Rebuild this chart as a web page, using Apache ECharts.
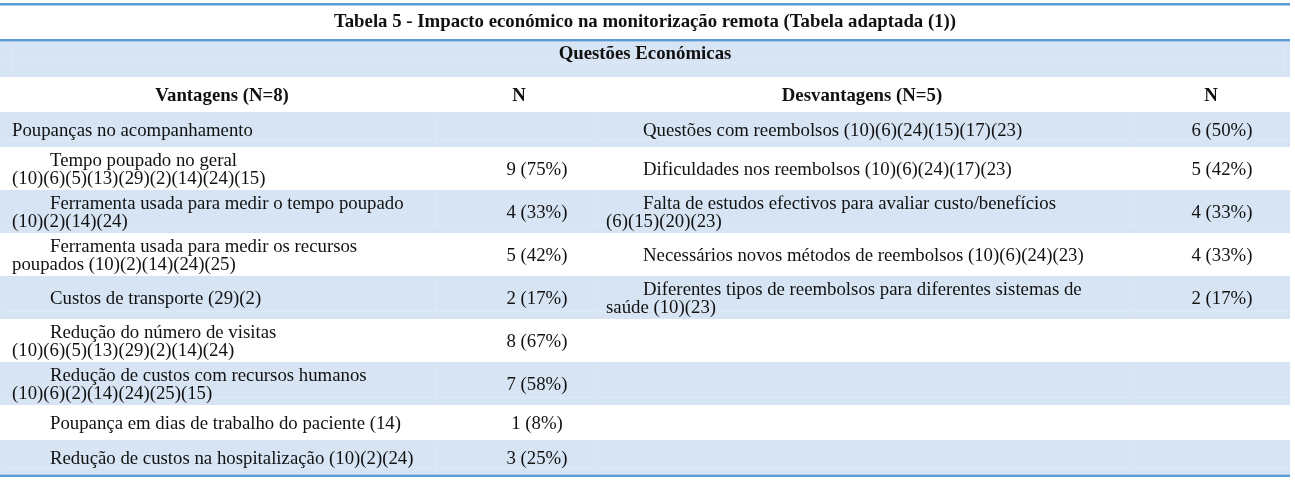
<!DOCTYPE html>
<html>
<head>
<meta charset="utf-8">
<script src="https://cdn.jsdelivr.net/npm/echarts@6/dist/echarts.min.js"></script>
<style>
  html, body { margin: 0; padding: 0; background: #ffffff; }
  #chart { width: 1295px; height: 485px; }
</style>
</head>
<body>
<div id="chart"></div>
<script>
// ---------- DATA ----------
const tableTitle = "Tabela 5 - Impacto económico na monitorização remota (Tabela adaptada (1))";
const sectionTitle = "Questões Económicas";
const headers = ["Vantagens (N=8)", "N", "Desvantagens (N=5)", "N"];

// Vantagens: each entry is the list of printed lines; the first row is a sub-heading
const vantagensLines = [
  ["Poupanças no acompanhamento"],
  ["Tempo poupado no geral", "(10)(6)(5)(13)(29)(2)(14)(24)(15)"],
  ["Ferramenta usada para medir o tempo poupado", "(10)(2)(14)(24)"],
  ["Ferramenta usada para medir os recursos", "poupados (10)(2)(14)(24)(25)"],
  ["Custos de transporte (29)(2)"],
  ["Redução do número de visitas", "(10)(6)(5)(13)(29)(2)(14)(24)"],
  ["Redução de custos com recursos humanos", "(10)(6)(2)(14)(24)(25)(15)"],
  ["Poupança em dias de trabalho do paciente (14)"],
  ["Redução de custos na hospitalização (10)(2)(24)"]
];
const vantagensSubheading = [true, false, false, false, false, false, false, false, false];
const vantagensCount = [null, 9, 4, 5, 2, 8, 7, 1, 3];
const vantagensPct   = [null, 75, 33, 42, 17, 67, 58, 8, 25];

const desvantagensLines = [
  ["Questões com reembolsos (10)(6)(24)(15)(17)(23)"],
  ["Dificuldades nos reembolsos (10)(6)(24)(17)(23)"],
  ["Falta de estudos efectivos para avaliar custo/benefícios", "(6)(15)(20)(23)"],
  ["Necessários novos métodos de reembolsos (10)(6)(24)(23)"],
  ["Diferentes tipos de reembolsos para diferentes sistemas de", "saúde (10)(23)"]
];
const desvantagensCount = [6, 5, 4, 4, 2];
const desvantagensPct   = [50, 42, 33, 33, 17];

// ---------- STYLE / LAYOUT ----------
const FONT = '"Liberation Serif", "Times New Roman", serif';
const BODY_FONT = '18.8px ' + FONT;
const BOLD_FONT = 'bold 18.8px ' + FONT;
const BAND = '#D6E4F3';
const INNER = '#DDE9F6';
const LINE_DARK = '#5B9BD5';
const LINE_LIGHT = '#A8C9EA';
const TEXT = '#111111';

const TABLE_X0 = 0, TABLE_X1 = 1290;
const TOP_LINE_Y = 3, TITLE_LINE_Y = 39, SECTION_Y0 = 41, HEADER_Y0 = 77, ROWS_Y0 = 112;
const H_ONE = 35, H_TWO = 43, LINE_H = 17.5;
const X = { lIndent: 50, lPlain: 12, lN: 537, rIndent: 643, rPlain: 606, rN: 1222,
            hV: 222, hN1: 519, hD: 862, hN2: 1211, center: 645,
            colA: 435, colB: 597, colC: 1130 };

const nRows = vantagensLines.length;
const rowTops = [];
(function () {
  let y = ROWS_Y0;
  for (let i = 0; i < nRows; i++) {
    rowTops.push(y);
    const lines = Math.max(vantagensLines[i].length, desvantagensLines[i] ? desvantagensLines[i].length : 1);
    y += lines > 1 ? H_TWO : H_ONE;
  }
  rowTops.push(y);
})();

function fmt(c, p) { return c == null ? '' : c + ' (' + p + '%)'; }

function txt(api, x, y, s, font, align) {
  const p = api.coord([x, y]);
  return { type: 'text', style: { x: p[0], y: p[1], text: s, font: font, fill: TEXT,
           textAlign: align || 'left', textVerticalAlign: 'middle' } };
}
function rect(api, x0, y0, x1, y1, fill) {
  const a = api.coord([x0, y0]), b = api.coord([x1, y1]);
  return { type: 'rect', shape: { x: a[0], y: a[1], width: b[0] - a[0], height: b[1] - a[1] }, style: { fill: fill } };
}
function hline(api, y, w, color) { return rect(api, TABLE_X0, y, TABLE_X1, y + w, color); }

function cellLines(api, lines, indentX, plainX, top, bottom, subheading) {
  const els = [];
  const mid = (top + bottom) / 2 + 1.5;
  const start = mid - (lines.length - 1) * LINE_H / 2;
  lines.forEach(function (ln, k) {
    const x = subheading ? plainX : (k === 0 ? indentX : plainX);
    els.push(txt(api, x, start + k * LINE_H, ln, BODY_FONT, 'left'));
  });
  return els;
}

// faint inner cell edges visible inside the shaded bands
function bandInner(api, top, bottom) {
  const c = [];
  const yl = bottom - 8;
  c.push(rect(api, TABLE_X0 + 2, yl, TABLE_X1 - 2, yl + 1, INNER));
  [X.colA, X.colB, X.colC].forEach(function (x) {
    c.push(rect(api, x, top + 2, x + 1, bottom - 2, INNER));
  });
  return c;
}

const chart = echarts.init(document.getElementById('chart'), null, { renderer: 'canvas' });

chart.setOption({
  backgroundColor: '#ffffff',
  animation: false,
  grid: { left: 0, right: 0, top: 0, bottom: 0 },
  xAxis: { type: 'value', min: 0, max: 1295, show: false },
  yAxis: { type: 'value', min: 0, max: 485, inverse: true, show: false },
  series: [
    {
      // header block: title, section band, column headers
      type: 'custom', silent: true,
      data: [0],
      renderItem: function (params, api) {
        let c = [];
        c.push(rect(api, TABLE_X0, SECTION_Y0, TABLE_X1, HEADER_Y0, BAND));
        c.push(rect(api, TABLE_X0 + 2, 62, TABLE_X1 - 2, 63, INNER));
        c.push(rect(api, 12, SECTION_Y0 + 2, 13, HEADER_Y0 - 2, INNER));
        c.push(rect(api, 1283, SECTION_Y0 + 2, 1284, HEADER_Y0 - 2, INNER));
        c.push(hline(api, TOP_LINE_Y, 2, LINE_DARK));
        c.push(hline(api, TOP_LINE_Y + 2, 1, LINE_LIGHT));
        c.push(hline(api, TITLE_LINE_Y, 2, LINE_DARK));
        c.push(hline(api, TITLE_LINE_Y + 2, 1, LINE_LIGHT));
        c.push(txt(api, X.center, 22.5, tableTitle, BOLD_FONT, 'center'));
        c.push(txt(api, X.center, 54, sectionTitle, BOLD_FONT, 'center'));
        c.push(txt(api, X.hV, 96, headers[0], BOLD_FONT, 'center'));
        c.push(txt(api, X.hN1, 96, headers[1], BOLD_FONT, 'center'));
        c.push(txt(api, X.hD, 96, headers[2], BOLD_FONT, 'center'));
        c.push(txt(api, X.hN2, 96, headers[3], BOLD_FONT, 'center'));
        return { type: 'group', children: c };
      }
    },
    {
      // body rows
      type: 'custom', silent: true,
      data: vantagensLines.map(function (_, i) { return i; }),
      renderItem: function (params, api) {
        const i = params.dataIndex;
        const top = rowTops[i], bottom = rowTops[i + 1];
        let c = [];
        if (i % 2 === 0) {
          c.push(rect(api, TABLE_X0, top, TABLE_X1, bottom, BAND));
          c = c.concat(bandInner(api, top, bottom));
        }
        c = c.concat(cellLines(api, vantagensLines[i], X.lIndent, X.lPlain, top, bottom, vantagensSubheading[i]));
        const mid = (top + bottom) / 2 + 1.5;
        c.push(txt(api, X.lN, mid, fmt(vantagensCount[i], vantagensPct[i]), BODY_FONT, 'center'));
        if (desvantagensLines[i]) {
          c = c.concat(cellLines(api, desvantagensLines[i], X.rIndent, X.rPlain, top, bottom, false));
          c.push(txt(api, X.rN, mid, fmt(desvantagensCount[i], desvantagensPct[i]), BODY_FONT, 'center'));
        }
        if (i === nRows - 1) {
          c.push(hline(api, bottom - 1, 1, LINE_LIGHT));
          c.push(hline(api, bottom, 2, LINE_DARK));
        }
        return { type: 'group', children: c };
      }
    }
  ]
});
</script>
</body>
</html>
